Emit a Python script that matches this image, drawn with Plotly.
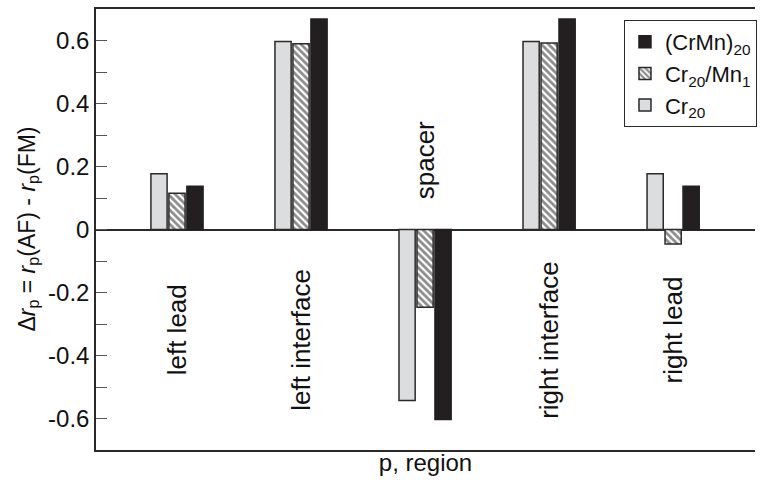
import plotly.graph_objects as go

categories = ["left lead", "left interface", "spacer", "right interface", "right lead"]
cr20 = [0.177, 0.597, -0.543, 0.597, 0.177]
cr20_mn1 = [0.115, 0.590, -0.247, 0.592, -0.046]
crmn20 = [0.137, 0.668, -0.603, 0.668, 0.137]
series_names = ["Cr<sub>20</sub>", "Cr<sub>20</sub>/Mn<sub>1</sub>", "(CrMn)<sub>20</sub>"]
tick_vals = [-0.6, -0.4, -0.2, 0, 0.2, 0.4, 0.6]
tick_text = ["-0.6", "-0.4", "-0.2", "0", "0.2", "0.4", "0.6"]
label_y = [-0.32, -0.35, 0.22, -0.35, -0.32]

FONT = "Liberation Sans, Arial, Helvetica, sans-serif"
DARK = "#2a2a2a"
TXT = "#111111"

fig = go.Figure()
fig.add_trace(go.Bar(
    x=categories, y=cr20, name=series_names[0],
    marker=dict(color="#dcdddf", line=dict(color=DARK, width=1.5)),
))
fig.add_trace(go.Bar(
    x=categories, y=cr20_mn1, name=series_names[1],
    marker=dict(color="white", line=dict(color=DARK, width=1.5),
                pattern=dict(shape="\\", fgcolor="#1a1a1a", bgcolor="white",
                             size=5, solidity=0.55)),
))
fig.add_trace(go.Bar(
    x=categories, y=crmn20, name=series_names[2],
    marker=dict(color="#231f20", line=dict(color="#231f20", width=1.5)),
))

for cat, ly in zip(categories, label_y):
    fig.add_annotation(x=cat, y=ly, xref="x", yref="y", text=cat,
                       textangle=-90, showarrow=False,
                       font=dict(family=FONT, size=26, color=TXT))

fig.add_annotation(
    x=-0.103, y=0.5, xref="paper", yref="paper", xanchor="center", yanchor="middle",
    text="Δ<i>r</i><sub>p</sub> = <i>r</i><sub>p</sub>(AF) - <i>r</i><sub>p</sub>(FM)",
    textangle=-90, showarrow=False, font=dict(family=FONT, size=23, color=TXT))

fig.update_layout(
    width=767, height=483,
    margin=dict(l=96, r=12, t=7, b=33),
    paper_bgcolor="white", plot_bgcolor="white",
    barmode="group", bargap=0.565, bargroupgap=0.1,
    font=dict(family=FONT, size=24, color=TXT),
    showlegend=True,
    legend=dict(x=1.003, xanchor="right", y=0.975, yanchor="top",
                traceorder="reversed", bgcolor="white",
                bordercolor=DARK, borderwidth=1, tracegroupgap=0,
                font=dict(family=FONT, size=22, color=TXT)),
)
fig.update_xaxes(
    range=[-0.653, 4.66], showticklabels=False, ticks="",
    showline=True, linecolor=DARK, linewidth=1.5, mirror=True,
    showgrid=False, zeroline=False,
    title=dict(text="p, region", font=dict(family=FONT, size=24, color=TXT), standoff=3),
)
fig.update_yaxes(
    range=[-0.7, 0.7], tickvals=tick_vals, ticktext=tick_text,
    ticks="inside", ticklen=11, tickwidth=1, tickcolor="#555",
    minor=dict(dtick=0.1, ticks="inside", ticklen=11, tickwidth=1, tickcolor="#555"),
    showline=True, linecolor=DARK, linewidth=1.5, mirror=False,
    showgrid=False, zeroline=True, zerolinecolor=DARK, zerolinewidth=1.5,
    tickfont=dict(family=FONT, size=24, color=TXT),
)

fig.write_html("out.html", config={"displayModeBar": False},
               post_script="document.body.style.margin='0px';")
